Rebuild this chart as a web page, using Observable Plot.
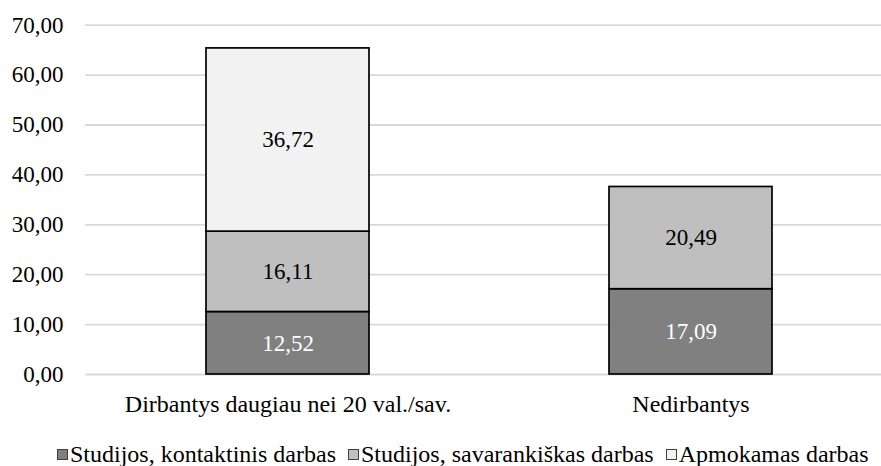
<!DOCTYPE html>
<html>
<head>
<meta charset="utf-8">
<script src="https://cdn.jsdelivr.net/npm/d3@7"></script>
<script src="https://cdn.jsdelivr.net/npm/@observablehq/plot@0.6"></script>
</head>
<body style="margin:0;padding:0;background:#fff;font-family:'Liberation Serif',serif;">
<div id="chart" style="width:881px;height:466px;position:relative;font-family:'Liberation Serif',serif;"></div>
<script>
const categories = ["Dirbantys daugiau nei 20 val./sav.", "Nedirbantys"];
const seriesNames = ["Studijos, kontaktinis darbas", "Studijos, savarankiškas darbas", "Apmokamas darbas"];
const kontaktinis = [12.52, 17.09];
const savarankiskas = [16.11, 20.49];
const apmokamas = [36.72, null];
const seriesColors = ["#808080", "#bfbfbf", "#f2f2f2"];
const labelColors = ["#ffffff", "#000000", "#000000"];
const yTicks = [0, 10, 20, 30, 40, 50, 60, 70];

const FONT = "'Liberation Serif', serif";
const seriesValues = [kontaktinis, savarankiskas, apmokamas];
const data = [];
seriesNames.forEach((s, si) => {
  categories.forEach((c, ci) => {
    const v = seriesValues[si][ci];
    if (v != null) data.push({category: c, series: s, value: v, si});
  });
});
const fmt = d => d.toFixed(2).replace(".", ",");

const plot = Plot.plot({
  width: 881,
  height: 430,
  marginLeft: 85,
  marginRight: 0,
  marginTop: 24.7,
  marginBottom: 56,
  style: {fontFamily: FONT, fontSize: "23px", color: "#000", background: "transparent"},
  x: {domain: categories, range: [84.5, 892.5], paddingInner: 0.5965, paddingOuter: 0.2983, label: null},
  y: {domain: [0, 70], range: [374, 24.7], label: null},
  color: {domain: seriesNames, range: seriesColors},
  marks: [
    Plot.ruleY(yTicks, {stroke: "#d9d9d9", strokeWidth: 1.8}),
    Plot.axisY({ticks: yTicks, tickSize: 0, tickPadding: 22, tickFormat: fmt, label: null, fontSize: 23, fontFamily: FONT}),
    Plot.axisX({tickSize: 0, tickPadding: 20, label: null, fontSize: 24, fontFamily: FONT}),
    Plot.barY(data, {x: "category", y: "value", z: "series", fill: "series", order: seriesNames, stroke: "#000", strokeWidth: 1.7}),
    Plot.text(data, Plot.stackY({x: "category", y: "value", z: "series", order: seriesNames, text: d => fmt(d.value), fill: d => labelColors[d.si], fontSize: 23, fontFamily: FONT}))
  ]
});
const chart = document.getElementById("chart");
chart.appendChild(plot);

const legend = document.createElement("div");
legend.style.cssText = "position:absolute;left:57px;top:443px;height:22px;display:flex;align-items:center;font-size:24px;color:#000;white-space:nowrap;line-height:22px;font-family:'Liberation Serif',serif;";
seriesNames.forEach((s, i) => {
  const item = document.createElement("div");
  item.style.cssText = "display:flex;align-items:center;margin-right:" + (i < seriesNames.length - 1 ? 12 : 0) + "px;";
  const sw = document.createElement("span");
  sw.style.cssText = "display:inline-block;width:9px;height:9px;border:1.5px solid #404040;margin-right:2px;background:" + seriesColors[i] + ";";
  const t = document.createElement("span");
  t.textContent = s;
  item.appendChild(sw);
  item.appendChild(t);
  legend.appendChild(item);
});
chart.appendChild(legend);
</script>
</body>
</html>
